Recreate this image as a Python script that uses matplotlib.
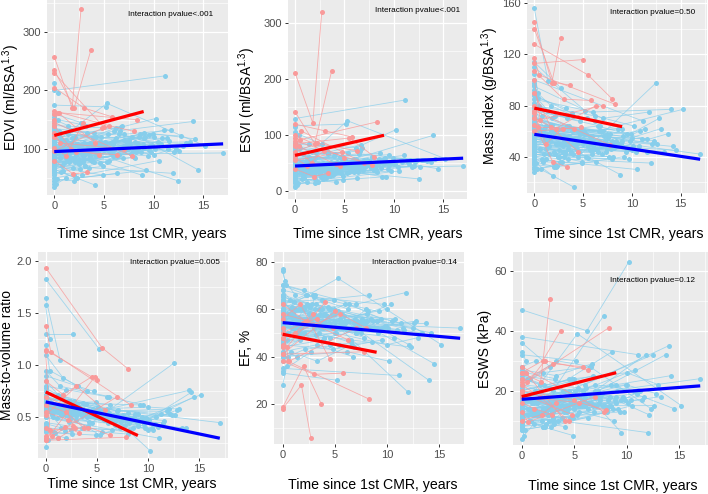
import matplotlib
matplotlib.use('Agg')
import matplotlib.pyplot as plt
from matplotlib.ticker import MultipleLocator

plt.rcParams['font.family'] = ['Liberation Sans', 'DejaVu Sans']
plt.rcParams['mathtext.fontset'] = 'custom'
plt.rcParams['mathtext.rm'] = 'Liberation Sans'
plt.rcParams['mathtext.it'] = 'Liberation Sans:italic'

# follow-up times (years since 1st CMR), one list per patient
blue_t = [
    [0, 17.0], [0, 5.3, 15.2], [0, 4.0, 8.5, 14.5], [0, 3.2, 9.0, 14.2], [0, 6.0, 14.0],
    [0, 2.5, 7.3, 13.7], [0, 5.0, 10.0, 13.0], [0, 4.5, 12.5], [0, 2.0, 6.5, 12.3], [0, 3.5, 12.0],
    [0, 7.0, 11.8], [0, 1.5, 5.7, 11.5], [0, 11.1], [0, 4.2, 10.8], [0, 2.8, 10.5],
    [0, 6.2, 10.2], [0, 1.2, 5.5, 10.0], [0, 3.0, 9.7], [0, 4.8, 9.5], [0, 2.2, 9.2],
    [0, 8.8], [0, 1.8, 4.5, 8.6], [0, 3.8, 8.3], [0, 5.8, 8.0], [0, 2.6, 7.8],
    [0, 1.0, 7.5], [0, 4.3, 7.2], [0, 6.8], [0, 0.8, 3.3, 6.6], [0, 2.3, 6.3],
    [0, 5.2], [0, 1.6, 6.0], [0, 3.6, 5.6], [0, 0.5, 2.1, 5.4], [0, 4.9],
    [0, 1.3, 4.7], [0, 2.9, 4.4], [0, 0.7, 4.1], [0, 3.9], [0, 1.1, 3.4],
    [0, 2.4, 3.1], [0, 2.7], [0, 0.9, 2.3], [0, 1.9], [0, 1.4],
    [0, 0.6, 1.7], [0, 0.3, 2.0], [0, 8.1, 11.3], [0, 9.9, 12.8], [0, 6.4, 9.4],
    [0, 3.7, 7.0, 10.7], [0, 5.1, 9.0], [0, 2.0, 4.0, 6.0, 8.2], [0, 1.5, 3.0, 4.6, 6.1], [0, 1.0, 2.5, 5.9],
    [0, 7.6, 12.1], [0, 0.4], [0, 0.2, 1.2], [0, 3.3, 6.7], [0, 5.5, 10.4],
    [0, 1.0, 3.0], [0, 2.0, 5.0], [0, 3.5, 6.5], [0, 4.0, 7.5], [0, 5.0, 8.5],
    [0, 6.0, 9.5], [0, 0.5, 1.5, 4.5], [0, 2.5, 5.5, 8.0], [0, 1.8, 3.6, 7.0], [0, 3.0, 6.0, 9.0],
    [0, 1.2, 2.8], [0, 4.6, 6.9], [0, 2.1, 7.7], [0, 5.7, 11.0], [0, 0.9, 4.9],
    [0, 3.4, 8.9], [0, 1.4, 6.2], [0, 2.7, 4.2], [0, 7.3, 9.8], [0, 0.6, 3.8],
    [0, 1.6, 2.4, 5.1], [0, 4.4, 10.1], [0, 3.1, 5.3], [0, 6.6, 8.7], [0, 1.7, 4.0],
    [0, 2.2, 3.5, 7.4], [0, 5.9, 11.6], [0, 0.8, 2.6], [0, 3.9, 9.1], [0, 1.3],
    [0, 2.0], [0, 4.7], [0, 6.3], [0, 8.4], [0, 1.1, 5.0, 9.6],
    [0, 2.9, 7.9], [0, 0.4, 3.2], [0, 4.1, 6.8, 13.3], [0, 7.1, 12.6], [0, 1.5, 8.1],
]
red_t = [
    [0, 1.8, 2.7], [0, 2.0, 3.7], [0, 5.5, 8.0], [0, 0.5, 8.3], [0, 3.0, 5.8],
    [0, 5.0], [0, 1.7, 4.5], [0, 2.2, 6.3], [0, 0.6, 7.0], [0, 1.9, 3.3],
    [0, 0.4, 4.1], [0, 7.8], [0, 1.2, 2.9], [0, 4.8],
]

edvi_blue = [
    [90, 93], [110, 178, 105], [85, 100, 120, 64], [100, 95, 128, 117], [120, 130, 147],
    [80, 75, 110, 112], [95, 105, 90, 105], [75, 90, 45], [105, 118, 126, 100], [70, 68, 58],
    [130, 125, 132], [88, 92, 95, 100], [200, 225], [115, 120, 118], [60, 55, 80],
    [140, 135, 152], [92, 85, 98, 120], [78, 82, 95], [98, 110, 123], [65, 50, 63],
    [105, 55], [120, 105, 112, 125], [72, 80, 100], [100, 112, 96], [88, 95, 120],
    [110, 100, 115], [82, 90, 105], [95, 140], [125, 115, 108, 130], [45, 50, 58],
    [175, 172], [92, 85, 100], [100, 88, 94], [140, 130, 120, 125], [70, 55],
    [108, 100, 112], [85, 78, 90], [55, 60, 38], [130, 118], [100, 110, 98],
    [75, 80, 70], [160, 145], [96, 103, 108], [62, 68], [150, 140],
    [115, 120, 110], [40, 48, 45], [98, 112, 118], [110, 125, 122], [85, 92, 88],
    [95, 100, 105, 108], [120, 110, 118], [80, 85, 78, 90, 95], [105, 98, 110, 102, 115], [70, 75, 82, 88],
    [100, 108, 95], [212, 195], [35, 40, 50], [135, 128, 138], [90, 96, 112],
    [88, 92, 96], [102, 98, 105], [76, 82, 90], [115, 108, 112], [92, 100, 104],
    [84, 88, 98], [100, 96, 104, 108], [68, 74, 80, 86], [125, 118, 110, 115], [95, 90, 98, 102],
    [110, 115, 108], [80, 76, 84], [70, 78, 92], [105, 110, 132], [58, 62, 70],
    [98, 102, 108], [135, 125, 118], [90, 94, 88], [108, 112, 106], [82, 85, 80],
    [118, 110, 105, 112], [88, 95, 100], [74, 70, 78], [96, 100, 94], [145, 132, 128],
    [86, 90, 95, 100], [102, 108, 114], [64, 70, 66], [112, 105, 120], [92, 90],
    [50, 56], [128, 120], [78, 88], [100, 108], [94, 92, 98, 105],
    [84, 88, 96], [155, 150, 140], [90, 96, 100, 110], [104, 98, 96], [72, 78, 85],
]
edvi_red = [
    [258, 170, 340], [235, 170, 270], [165, 140, 130], [150, 162, 150], [205, 170, 155],
    [230, 137], [140, 100, 90], [120, 95, 90], [128, 110, 100], [80, 57, 60],
    [160, 162, 110], [145, 88], [102, 88, 145], [96, 135],
]

esvi_blue = [
    [40, 45], [44, 126, 58], [42, 48, 58, 40], [42, 36, 58, 58], [58, 58, 100],
    [30, 32, 52, 52], [49, 52, 50, 55], [26, 36, 22], [58, 59, 67, 56], [32, 27, 45],
    [39, 48, 44], [38, 41, 40, 48], [130, 163], [46, 52, 52], [20, 21, 36],
    [84, 78, 110], [43, 34, 43, 48], [25, 29, 36], [54, 63, 65], [25, 17, 26],
    [52, 26], [70, 55, 62, 68], [27, 29, 34], [45, 54, 38], [37, 42, 62],
    [58, 48, 52], [30, 35, 48], [48, 78], [75, 67, 67, 72], [14, 17, 23],
    [117, 120], [40, 34, 48], [48, 37, 42], [87, 78, 68, 69], [28, 20],
    [49, 50, 47], [32, 27, 36], [18, 22, 16], [73, 63], [44, 41, 42],
    [30, 37, 24], [105, 84], [40, 49, 41], [21, 27], [87, 84],
    [53, 50, 55], [10, 14, 14], [47, 47, 54], [55, 59, 55], [36, 35, 39],
    [49, 48, 52, 56], [65, 55, 53], [32, 37, 33, 34, 39], [48, 49, 47, 48, 52], [25, 32, 32, 38],
    [48, 48, 52], [115, 100], [8, 11, 17], [78, 70, 83], [39, 44, 43],
    [40, 41, 43], [46, 44, 48], [32, 36, 40], [55, 50, 54], [42, 46, 50],
    [36, 40, 46], [46, 42, 48, 50], [28, 32, 35, 38], [62, 58, 52, 56], [44, 40, 46, 48],
    [52, 56, 50], [34, 32, 38], [30, 34, 42], [48, 52, 64], [22, 24, 28],
    [46, 48, 52], [70, 62, 58], [40, 42, 38], [52, 55, 50], [34, 36, 32],
    [58, 52, 48, 54], [40, 44, 48], [30, 28, 32], [44, 48, 42], [80, 70, 66],
    [38, 40, 44, 46], [48, 52, 56], [24, 28, 26], [54, 50, 60], [42, 40],
    [18, 22], [64, 58], [34, 40], [46, 52], [42, 40, 46, 50],
    [36, 38, 44], [85, 80, 72], [40, 44, 46, 54], [48, 44, 44], [30, 34, 38],
]
esvi_red = [
    [212, 122, 320], [142, 85, 215], [85, 95, 62], [95, 92, 124], [120, 108, 97],
    [100, 60], [80, 50, 45], [70, 86, 72], [65, 108, 50], [40, 26, 32],
    [82, 80, 48], [90, 46], [60, 45, 72], [55, 70],
]

mass_blue = [
    [60, 42], [70, 58, 77], [55, 50, 48, 45], [62, 55, 52, 48], [85, 75, 77],
    [48, 45, 44, 58], [65, 60, 55, 62], [45, 40, 98], [72, 60, 64, 52], [40, 38, 35],
    [95, 70, 75], [52, 48, 45, 44], [100, 68], [58, 55, 60], [38, 36, 30],
    [80, 72, 64], [50, 46, 50, 45], [42, 40, 38], [68, 62, 58], [36, 32, 40],
    [62, 26], [75, 65, 60, 62], [40, 44, 48], [66, 55, 52], [54, 50, 58],
    [78, 62, 56], [46, 50, 52], [58, 60], [90, 72, 64, 60], [30, 33, 36],
    [110, 76], [56, 52, 50], [62, 56, 52], [98, 80, 72, 70], [44, 36],
    [60, 55, 58], [48, 44, 46], [34, 30, 16], [88, 74], [58, 54, 52],
    [42, 40, 44], [114, 94], [54, 58, 50], [36, 25], [156, 99],
    [66, 62, 60], [28, 30, 34], [56, 50, 62], [64, 58, 70], [50, 46, 44],
    [58, 54, 50, 48], [70, 60, 62], [46, 44, 42, 45, 47], [62, 58, 56, 54, 52], [44, 42, 40, 42],
    [60, 55, 50], [105, 90], [32, 35, 38], [82, 70, 64], [52, 48, 44],
    [55, 52, 50], [62, 56, 52], [48, 46, 44], [70, 62, 58], [58, 54, 50],
    [50, 48, 46], [64, 60, 58, 55], [42, 40, 39, 38], [80, 70, 64, 60], [56, 52, 50, 48],
    [66, 64, 62], [46, 44, 42], [44, 42, 40], [60, 56, 54], [38, 36, 35],
    [58, 54, 50], [88, 76, 68], [52, 50, 48], [62, 56, 52], [48, 46, 44],
    [72, 64, 62, 58], [54, 50, 48], [44, 42, 40], [56, 52, 50], [92, 80, 72],
    [52, 50, 48, 46], [60, 56, 54], [40, 38, 36], [66, 60, 56], [56, 54],
    [34, 32], [76, 68], [46, 46], [60, 52], [54, 52, 50, 46],
    [50, 48, 46], [96, 86, 78], [52, 50, 48, 44], [62, 56, 50], [44, 42, 40],
]
mass_red = [
    [145, 98, 133], [140, 98, 96], [128, 104, 85], [117, 104, 81], [107, 85, 84],
    [113, 116], [90, 63, 44], [70, 62, 80], [100, 69, 80], [65, 36, 32],
    [80, 63, 62], [76, 49], [74, 50, 62], [60, 63],
]

mvr_blue = [
    [0.65, 0.45], [0.65, 0.33, 0.72], [0.62, 0.50, 0.40, 0.70], [0.60, 0.58, 0.42, 0.74], [0.72, 0.58, 0.76],
    [0.60, 0.60, 0.40, 0.40], [0.70, 0.58, 0.60, 0.58], [0.60, 0.45, 1.02], [0.70, 0.52, 0.50, 0.52], [0.55, 0.55, 0.58],
    [0.75, 0.56, 0.56], [0.60, 0.52, 0.48, 0.45], [0.50, 0.30], [0.50, 0.46, 0.50], [0.62, 0.65, 0.38],
    [0.58, 0.54, 0.18], [0.55, 0.55, 0.52, 0.38], [0.55, 0.48, 0.40], [0.70, 0.56, 0.47], [0.56, 0.64, 0.62],
    [0.60, 0.47], [0.63, 0.62, 0.54, 0.50], [0.55, 0.55, 0.48], [0.66, 0.50, 0.54], [0.62, 0.53, 0.48],
    [0.72, 0.62, 0.49], [0.57, 0.55, 0.50], [0.62, 0.43], [0.72, 0.63, 0.60, 0.46], [0.67, 0.66, 0.62],
    [1.83, 1.16], [0.60, 0.61, 0.50], [0.62, 0.64, 0.55], [0.70, 0.62, 0.60, 0.56], [0.63, 0.65],
    [0.55, 0.55, 0.52], [0.56, 0.56, 0.51], [0.62, 0.50, 0.42], [0.68, 0.63], [0.58, 0.49, 0.53],
    [0.56, 0.50, 0.63], [1.30, 1.30], [0.56, 0.56, 0.46], [0.58, 0.37], [1.65, 1.05],
    [0.57, 0.52, 0.55], [0.70, 0.62, 0.76], [0.57, 0.45, 0.53], [0.58, 0.46, 0.57], [0.59, 0.50, 0.50],
    [0.60, 0.54, 0.48, 0.44], [0.58, 0.55, 0.53], [0.58, 0.52, 0.54, 0.50, 0.49], [0.59, 0.59, 0.51, 0.53, 0.45], [0.63, 0.56, 0.49, 0.48],
    [0.60, 0.51, 0.53], [1.58, 1.25], [0.22, 0.28, 0.30], [0.61, 0.55, 0.46], [0.58, 0.50, 0.40],
    [0.62, 0.57, 0.52], [0.61, 0.57, 0.50], [0.45, 0.40, 0.38], [0.61, 0.57, 0.52], [0.63, 0.54, 0.48],
    [0.80, 0.70, 0.62], [0.64, 0.63, 0.56, 0.51], [0.40, 0.38, 0.36, 0.34], [0.64, 0.59, 0.58, 0.52], [0.59, 0.58, 0.51, 0.47],
    [0.85, 0.72, 0.66], [0.58, 0.58, 0.50], [0.63, 0.54, 0.43], [0.57, 0.51, 0.41], [0.38, 0.35, 0.33],
    [0.59, 0.53, 0.46], [0.95, 0.80, 0.70], [0.58, 0.53, 0.55], [0.57, 0.50, 0.49], [0.59, 0.54, 0.55],
    [0.78, 0.70, 0.66, 0.60], [0.61, 0.53, 0.48], [0.59, 0.60, 0.51], [0.58, 0.52, 0.53], [1.10, 0.88, 0.75],
    [0.60, 0.56, 0.51, 0.46], [0.59, 0.52, 0.47], [0.42, 0.36, 0.34], [0.59, 0.57, 0.47], [0.61, 0.60],
    [0.36, 0.30], [0.90, 0.75], [0.59, 0.52], [0.60, 0.48], [0.57, 0.57, 0.51, 0.44],
    [0.60, 0.55, 0.48], [1.20, 0.95, 0.80], [0.58, 0.52, 0.48, 0.40], [0.60, 0.57, 0.52], [0.44, 0.40, 0.38],
]
mvr_red = [
    [0.70, 0.62, 0.42], [0.62, 0.55, 0.40], [1.94, 1.17, 0.97], [1.38, 1.13, 0.62], [0.52, 0.80, 0.57],
    [1.15, 0.86], [0.85, 0.72, 0.89], [0.55, 0.48, 0.33], [0.40, 0.32, 0.70], [0.32, 0.41, 0.35],
    [1.14, 0.38, 0.40], [0.28, 0.31], [0.30, 0.30, 0.40], [0.28, 0.89],
]

ef_blue = [
    [55, 52], [60, 73, 45], [50, 48, 52, 37], [58, 62, 55, 50], [52, 55, 30],
    [62, 58, 53, 54], [48, 50, 45, 48], [65, 60, 52], [45, 50, 47, 44], [55, 60, 25],
    [70, 62, 67], [57, 55, 58, 52], [35, 32], [60, 57, 56], [66, 62, 55],
    [40, 42, 38], [53, 60, 56, 60], [68, 65, 62], [45, 43, 47], [62, 66, 59],
    [50, 52], [42, 48, 45, 46], [63, 64, 66], [55, 52, 60], [58, 56, 48],
    [47, 52, 55], [64, 61, 54], [50, 44], [40, 42, 38, 45], [70, 66, 60],
    [33, 30], [56, 60, 52], [52, 58, 55], [38, 40, 43, 45], [60, 64],
    [55, 50, 58], [62, 66, 60], [68, 64, 58], [44, 47], [56, 63, 57],
    [60, 54, 66], [34, 42], [58, 52, 62], [66, 60], [42, 40],
    [54, 58, 50], [76, 70, 68], [52, 58, 54], [50, 53, 55], [58, 62, 56],
    [48, 52, 50, 48], [46, 50, 55], [60, 56, 58, 62, 59], [54, 50, 57, 53, 55], [64, 58, 61, 57],
    [52, 56, 45], [28, 36], [77, 72, 66], [42, 45, 40], [57, 54, 62],
    [54, 56, 52], [58, 60, 55], [48, 50, 46], [52, 55, 50], [62, 58, 56],
    [57, 55, 52], [46, 50, 52, 48], [60, 58, 56, 55], [50, 52, 54, 50], [56, 58, 54, 52],
    [53, 52, 54], [58, 60, 56], [57, 56, 54], [54, 53, 51], [62, 61, 60],
    [53, 53, 52], [48, 50, 51], [56, 55, 57], [52, 51, 53], [59, 58, 60],
    [51, 53, 54, 52], [55, 54, 52], [60, 60, 59], [54, 52, 55], [45, 47, 48],
    [56, 56, 54, 54], [53, 52, 51], [63, 60, 61], [52, 52, 50], [54, 56],
    [64, 61], [50, 52], [56, 55], [54, 52], [55, 57, 53, 52],
    [57, 57, 54], [45, 47, 49], [56, 54, 54, 50], [54, 55, 54], [58, 56, 55],
]
ef_red = [
    [18, 28, 5.5], [18.5, 36, 20], [48, 58, 52], [44, 38, 22], [38, 32.5, 33],
    [41, 59], [56, 62, 39], [62, 55, 47], [52, 38, 52], [50, 54, 56],
    [48, 44, 63], [41, 42], [45, 50, 58], [58, 52],
]

esws_blue = [
    [16, 24], [14, 39, 15], [15, 20, 22, 14], [18, 16, 22, 25], [25, 22, 35],
    [12, 14, 20, 32], [20, 24, 26, 22], [16, 20, 32], [22, 26, 28, 14], [12, 10, 6],
    [18, 20, 32], [14, 13, 15, 17], [38, 32], [16, 18, 27], [10, 8, 15],
    [47, 40, 63], [15, 12, 18, 22], [12, 11, 13], [20, 24, 6], [10, 8, 14],
    [18, 10], [22, 20, 24, 33], [13, 11, 15], [17, 20, 14], [16, 18, 45],
    [20, 16, 18], [11, 13, 19], [19, 25], [28, 24, 30, 28], [8, 9, 11],
    [32, 30], [14, 12, 18], [17, 15, 16], [26, 24, 22, 21], [10, 5],
    [18, 20, 16], [12, 10, 14], [9, 10, 8], [24, 20], [15, 12, 14],
    [11, 14, 9], [36, 28], [15, 17, 13], [8, 10], [28, 30],
    [16, 14, 18], [4, 7, 8], [17, 14, 20], [18, 22, 19], [14, 16, 13],
    [19, 18, 22, 20], [22, 20, 18], [12, 14, 13, 15, 17], [18, 16, 20, 17, 21], [11, 13, 12, 16],
    [17, 19, 12], [33, 30], [7, 5, 9], [27, 25, 29], [16, 15, 17],
    [15, 14, 16], [14, 13, 15], [18, 17, 19], [16, 15, 17], [12, 14, 15],
    [14, 15, 17], [19, 17, 16, 18], [11, 12, 13, 14], [20, 18, 17, 19], [14, 13, 15, 16],
    [15, 16, 14], [12, 11, 13], [12, 13, 15], [16, 17, 19], [9, 10, 11],
    [16, 16, 17], [19, 17, 16], [14, 15, 13], [17, 18, 17], [12, 12, 11],
    [19, 17, 16, 18], [14, 15, 16], [11, 10, 12], [15, 16, 14], [24, 22, 20],
    [14, 14, 15, 16], [16, 17, 18], [9, 10, 10], [18, 17, 20], [15, 14],
    [7, 8], [21, 19], [12, 14], [16, 18], [15, 14, 16, 18],
    [13, 13, 15], [28, 26, 24], [14, 15, 15, 18], [16, 15, 15], [11, 12, 13],
]
esws_red = [
    [26, 23, 50.5], [26, 30, 40], [18, 16, 13.5], [24, 23, 41], [23, 29, 28],
    [20, 17], [22, 18, 10], [20, 30, 27], [13, 9.5, 18], [10, 12, 16],
    [26, 26, 10], [28, 13], [16, 14, 12], [19, 12],
]

# fitted group trends (start at 0, end at 9 for red, 17 for blue)
fit_red_x = [0, 9]
fit_blue_x = [0, 17]
edvi_fit_red, edvi_fit_blue = [123, 164], [95.4, 108.6]
esvi_fit_red, esvi_fit_blue = [64, 100], [45, 59]
mass_fit_red, mass_fit_blue = [78, 63.5], [57.5, 38]
mvr_fit_red, mvr_fit_blue = [0.745, 0.326], [0.649, 0.30]
ef_fit_red, ef_fit_blue = [49.4, 41.8], [54.3, 47.7]
esws_fit_red, esws_fit_blue = [18.0, 26.0], [17.1, 21.6]

notes = ['Interaction pvalue<.001', 'Interaction pvalue<.001', 'Interaction pvalue=0.50',
         'Interaction pvalue=0.005', 'Interaction pvalue=0.14', 'Interaction pvalue=0.12']
ylabels = ['EDVI (ml/BSA$^{1.3}$)', 'ESVI (ml/BSA$^{1.3}$)', 'Mass index (g/BSA$^{1.3}$)',
           'Mass-to-volume ratio', 'EF, %', 'ESWS (kPa)']

W, H = 708, 494
BLUE_PT = '#87CEEB'
RED_PT = '#F99A9A'

# layout in pixels: box (left, top, right, bottom), xlim, ylim, y major step,
# ylabel x, xlabel (x, y), note (x, y)
layout = [
    ((47, 0, 228, 195), (-0.73, 17.49), (21, 355), 100, 11, (142, 234), (171, 15)),
    ((288, 0, 467, 199), (-0.71, 17.39), (-14, 342), 100, 247, (378, 234), (418, 10)),
    ((527, 0, 707, 193), (-0.75, 17.7), (11.6, 162.6), 40, 490, (619, 234), (653, 12)),
    ((38, 252, 228, 458), (-0.75, 17.8), (0.11, 2.09), 0.5, 7, (132, 484), (175, 263)),
    ((274, 252, 464, 444), (-0.83, 17.37), (3.1, 84.1), 20, 246, (373, 485), (414, 263)),
    ((513, 252, 708, 445), (-0.83, 17.74), (1.85, 66.3), 20, 485, (613, 486), (653, 281)),
]

series = [
    (edvi_blue, edvi_red, edvi_fit_blue, edvi_fit_red),
    (esvi_blue, esvi_red, esvi_fit_blue, esvi_fit_red),
    (mass_blue, mass_red, mass_fit_blue, mass_fit_red),
    (mvr_blue, mvr_red, mvr_fit_blue, mvr_fit_red),
    (ef_blue, ef_red, ef_fit_blue, ef_fit_red),
    (esws_blue, esws_red, esws_fit_blue, esws_fit_red),
]

fig = plt.figure(figsize=(W / 100, H / 100), dpi=100)

for i, (box, xlim, ylim, ystep, ylab_x, xlab_xy, note_xy) in enumerate(layout):
    left, top, right, bottom = box
    ax = fig.add_axes([left / W, 1 - bottom / H, (right - left) / W, (bottom - top) / H])
    blue_vals, red_vals, fit_b, fit_r = series[i]

    for t, v in zip(blue_t, blue_vals):
        ax.plot(t, v, color=BLUE_PT, lw=0.6, alpha=0.75, zorder=2)
        ax.plot(t, v, 'o', color=BLUE_PT, ms=3.6, mec='none', zorder=3)
    for t, v in zip(red_t, red_vals):
        ax.plot(t, v, color=RED_PT, lw=0.6, alpha=0.8, zorder=4)
        ax.plot(t, v, 'o', color=RED_PT, ms=3.6, mec='none', zorder=5)

    ax.plot(fit_red_x, fit_r, color='#FF0000', lw=2.3, zorder=6, solid_capstyle='butt')
    ax.plot(fit_blue_x, fit_b, color='#0000FF', lw=2.3, zorder=6, solid_capstyle='butt')

    ax.set_xlim(*xlim)
    ax.set_ylim(*ylim)
    ax.set_facecolor('#EBEBEB')
    for s in ax.spines.values():
        s.set_visible(False)
    ax.xaxis.set_major_locator(MultipleLocator(5))
    ax.xaxis.set_minor_locator(MultipleLocator(2.5))
    ax.yaxis.set_major_locator(MultipleLocator(ystep))
    ax.yaxis.set_minor_locator(MultipleLocator(ystep / 2))
    ax.grid(which='major', color='white', lw=0.9, zorder=0)
    ax.grid(which='minor', color='white', lw=0.45, zorder=0)
    ax.set_axisbelow(True)
    ax.tick_params(which='major', length=2.5, width=0.7, color='#333333',
                   labelcolor='#4D4D4D', labelsize=8, pad=2)
    ax.tick_params(which='minor', length=0)
    if ystep == 0.5:
        ax.yaxis.set_major_formatter(plt.FuncFormatter(lambda v, p: f'{v:.1f}'))
    else:
        ax.yaxis.set_major_formatter(plt.FuncFormatter(lambda v, p: f'{v:.0f}'))

    fig.text(ylab_x / W, 1 - (top + bottom) / 2 / H, ylabels[i], rotation=90,
             ha='center', va='center', fontsize=10, color='black')
    fig.text(xlab_xy[0] / W, 1 - xlab_xy[1] / H, 'Time since 1st CMR, years',
             ha='center', va='center', fontsize=10.2, color='black')
    fig.text(note_xy[0] / W, 1 - note_xy[1] / H, notes[i], ha='center', va='center',
             fontsize=5.9, color='black')

fig.savefig('out.png', dpi=100)
